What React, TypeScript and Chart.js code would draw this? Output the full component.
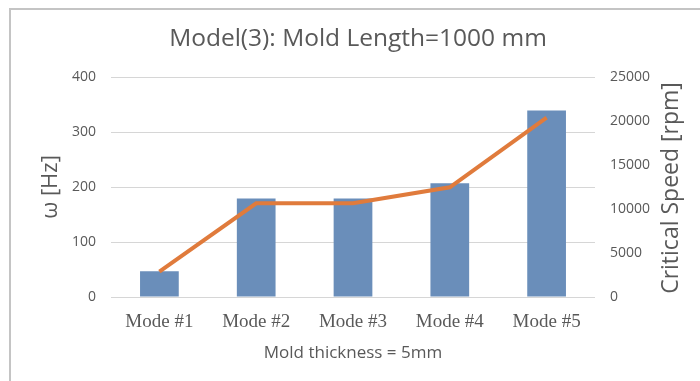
import React, { useEffect, useRef } from "react";
import { Chart, registerables } from "chart.js";

Chart.register(...registerables);

const categories = ["Mode #1", "Mode #2", "Mode #3", "Mode #4", "Mode #5"];
const omegaHz = [47, 179, 179, 207, 339];
const criticalRpm = [2880, 10650, 10650, 12470, 20380];
const leftTicks = [0, 100, 200, 300, 400];
const rightTicks = [0, 5000, 10000, 15000, 20000, 25000];

const titleText = "Model(3): Mold Length=1000 mm";
const leftTitle = "ω [Hz]";
const rightTitle = "Critical Speed [rpm]";
const xTitle = "Mold thickness = 5mm";

const TEXT = "#595959";
const SANS = "'Open Sans', 'Noto Sans', sans-serif";

export default function App() {
  const ref = useRef<HTMLCanvasElement | null>(null);

  useEffect(() => {
    if (!ref.current) return;
    const deco = {
      id: "deco",
      beforeDraw(chart: any) {
        const ctx = chart.ctx;
        ctx.save();
        ctx.fillStyle = "#ffffff";
        ctx.fillRect(0, 0, chart.width, chart.height);
        ctx.strokeStyle = "#c4c4c4";
        ctx.lineWidth = 2;
        ctx.beginPath();
        ctx.moveTo(10, chart.height);
        ctx.lineTo(10, 9);
        ctx.lineTo(chart.width, 9);
        ctx.stroke();
        ctx.restore();
      },
      afterDraw(chart: any) {
        const ctx = chart.ctx;
        ctx.save();
        ctx.fillStyle = TEXT;
        ctx.textAlign = "center";
        ctx.textBaseline = "middle";
        ctx.font = `24.5px ${SANS}`;
        ctx.fillText(titleText, 358, 39);
        ctx.translate(671, 188);
        ctx.rotate(-Math.PI / 2);
        ctx.font = `23px ${SANS}`;
        ctx.fillText(rightTitle, 0, 0);
        ctx.restore();
      },
    };

    const chart = new Chart(ref.current, {
      type: "bar",
      data: {
        labels: categories,
        datasets: [
          {
            type: "line",
            label: "Critical Speed",
            data: criticalRpm,
            yAxisID: "y1",
            borderColor: "#E07B3C",
            backgroundColor: "#E07B3C",
            borderWidth: 4,
            pointRadius: 0,
            tension: 0,
            order: 0,
          } as any,
          {
            type: "bar",
            label: "ω",
            data: omegaHz,
            yAxisID: "y",
            backgroundColor: "#6A8EBA",
            barPercentage: 0.4,
            categoryPercentage: 1,
            order: 1,
          },
        ],
      },
      options: {
        animation: false,
        responsive: true,
        maintainAspectRatio: false,
        layout: { padding: { left: 0, right: 0, top: 77, bottom: 0 } },
        plugins: {
          legend: { display: false },
          tooltip: { enabled: false },
          title: { display: false },
        },
        scales: {
          x: {
            grid: { display: false, drawTicks: false },
            border: { display: false },
            ticks: {
              color: TEXT,
              padding: 14,
              font: { family: "'Liberation Serif', 'DejaVu Serif', serif", size: 19 },
              maxRotation: 0,
            },
            title: {
              display: true,
              text: xTitle,
              color: TEXT,
              font: { family: SANS, size: 17 },
              padding: { top: 0, bottom: 18 },
            },
            afterFit(scale: any) {
              scale.height = 84;
            },
          },
          y: {
            position: "left",
            min: 0,
            max: 400,
            afterBuildTicks(scale: any) {
              scale.ticks = leftTicks.map((v) => ({ value: v }));
            },
            grid: { color: "#d6d6d6", lineWidth: 1, drawTicks: false },
            border: { display: false },
            ticks: {
              color: TEXT,
              padding: 15,
              font: { family: SANS, size: 14 },
              callback: (v: any) => String(v),
            },
            title: {
              display: true,
              text: leftTitle,
              color: TEXT,
              font: { family: SANS, size: 22 },
              padding: { top: 38, bottom: 0 },
            },
            afterFit(scale: any) {
              scale.width = 111;
            },
          },
          y1: {
            position: "right",
            min: 0,
            max: 25000,
            afterBuildTicks(scale: any) {
              scale.ticks = rightTicks.map((v) => ({ value: v }));
            },
            grid: { display: false, drawTicks: false },
            border: { display: false },
            ticks: {
              color: TEXT,
              padding: 15,
              font: { family: SANS, size: 14 },
              callback: (v: any) => String(v),
            },
            afterFit(scale: any) {
              scale.width = 105;
            },
          },
        },
      },
      plugins: [deco],
    });
    return () => chart.destroy();
  }, []);

  return (
    <div style={{ position: "absolute", left: 0, top: 0, width: 700, height: 381 }}>
      <canvas ref={ref} />
    </div>
  );
}
